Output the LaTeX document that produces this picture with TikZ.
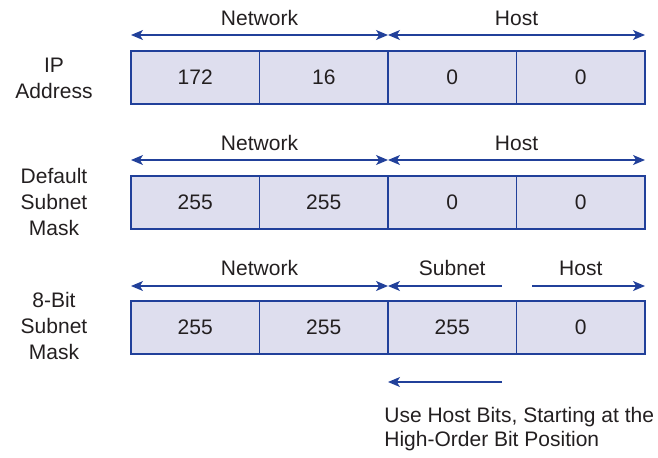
\documentclass[tikz,border=0pt]{standalone}
\usepackage{fontspec}
\setmainfont{Liberation Sans}
\definecolor{maskline}{RGB}{33,64,154}
\definecolor{maskfill}{RGB}{222,222,238}
\definecolor{ink}{RGB}{35,31,32}
\usetikzlibrary{arrows.meta,positioning,calc}

\begin{document}
\begin{tikzpicture}[x=0.5pt, y=-0.5pt, font=\fontsize{10.5}{13}\selectfont, text=ink,
    cell/.style={draw=maskline, fill=maskfill, line width=0.75pt, minimum width=64.25pt,
      minimum height=26.5pt, inner sep=0pt, outer sep=0pt, anchor=north west},
    span/.style={maskline, line width=0.6pt},
    tip/.tip={Stealth[length=6pt, width=5pt, inset=1.6pt]},
    rowlabel/.style={align=center, inner sep=0pt}]
  \useasboundingbox (0,0) rectangle (658,457);

  % IP address row
  \node[cell] (ip1) at (131,51) {172};
  \node[cell] (ip2) at (ip1.north east) {16};
  \node[cell] (ip3) at (ip2.north east) {0};
  \node[cell] (ip4) at (ip3.north east) {0};
  \node[rowlabel] (ipLabel) at (54,78.5) {IP\\Address};
  \coordinate (ipL) at ($(ip1.north west)+(0,-16)$);
  \coordinate (ipM) at ($(ip3.north west)+(0,-16)$);
  \coordinate (ipR) at ($(ip4.north east)+(0,-16)$);
  \draw[span, tip-tip] (ipL) -- (ipM);
  \draw[span, tip-tip] (ipM) -- (ipR);
  \node (ipNet) at ($(ip2.north west)+(0,-33)$) {Network};
  \node (ipHost) at ($(ip4.north west)+(0,-33)$) {Host};

  % default mask row
  \node[cell] (dm1) at (131,176) {255};
  \node[cell] (dm2) at (dm1.north east) {255};
  \node[cell] (dm3) at (dm2.north east) {0};
  \node[cell] (dm4) at (dm3.north east) {0};
  \node[rowlabel] (dmLabel) at (54,201.5) {Default\\Subnet\\Mask};
  \coordinate (dmL) at ($(dm1.north west)+(0,-16)$);
  \coordinate (dmM) at ($(dm3.north west)+(0,-16)$);
  \coordinate (dmR) at ($(dm4.north east)+(0,-16)$);
  \draw[span, tip-tip] (dmL) -- (dmM);
  \draw[span, tip-tip] (dmM) -- (dmR);
  \node (dmNet) at ($(dm2.north west)+(0,-33)$) {Network};
  \node (dmHost) at ($(dm4.north west)+(0,-33)$) {Host};

  % 8-bit mask row
  \node[cell] (sm1) at (131,301) {255};
  \node[cell] (sm2) at (sm1.north east) {255};
  \node[cell] (sm3) at (sm2.north east) {255};
  \node[cell] (sm4) at (sm3.north east) {0};
  \node[rowlabel] (smLabel) at (54,326) {8-Bit\\Subnet\\Mask};
  \coordinate (smL) at ($(sm1.north west)+(0,-15)$);
  \coordinate (smM) at ($(sm3.north west)+(0,-15)$);
  \coordinate (smR) at ($(sm4.north east)+(0,-15)$);
  \coordinate (smSubEnd) at ($(smM)+(114,0)$);
  \coordinate (smHostStart) at ($(smR)+(-113,0)$);
  \draw[span, tip-tip] (smL) -- (smM);
  \draw[span, tip-] (smM) -- (smSubEnd);
  \draw[span, -tip] (smHostStart) -- (smR);
  \node (smNet) at ($(sm2.north west)+(0,-33)$) {Network};
  \node (smSub) at ($(sm3.north)+(0,-33)$) {Subnet};
  \node (smHost) at ($(sm4.north)+(0,-33)$) {Host};

  % borrowed host bits
  \coordinate (useTip) at ($(sm3.south west)+(0,28)$);
  \coordinate (useTail) at ($(useTip)+(114,0)$);
  \draw[span, -tip] (useTail) -- (useTip);
  \node[anchor=north west, align=left, inner sep=0pt, font=\fontsize{10.5}{12}\selectfont]
    (useNote) at (384,407) {Use Host Bits, Starting at the\\High-Order Bit Position};
\end{tikzpicture}
\end{document}
